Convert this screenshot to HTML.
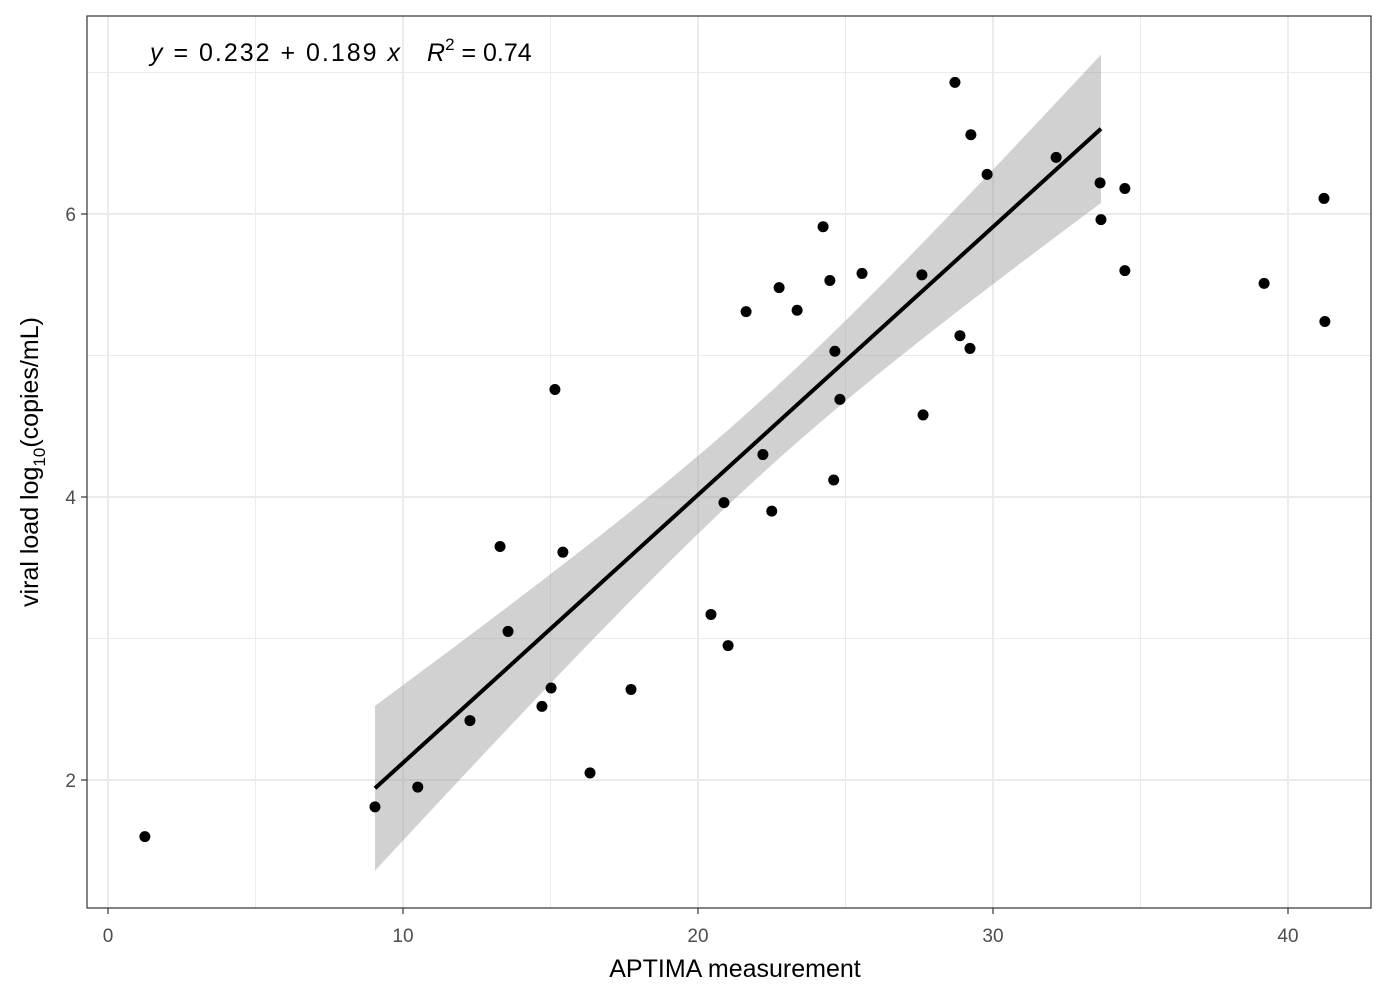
<!DOCTYPE html>
<html><head><meta charset="utf-8"><style>
body{margin:0;background:#fff;font-family:"Liberation Sans",Arial,sans-serif}
</style></head><body>
<svg id="chart" width="1400" height="1000" xmlns="http://www.w3.org/2000/svg"></svg>
<script>
const xVals=[1.25,9.05,10.5,12.27,13.29,13.56,14.71,15.02,15.15,15.42,16.34,17.73,20.44,20.88,21.02,21.63,22.2,22.5,22.75,23.36,24.24,24.47,24.6,24.64,24.81,25.56,27.59,27.63,28.71,28.88,29.25,29.22,29.8,32.14,33.63,33.66,34.47,34.47,39.19,41.22,41.25];
const yVals=[1.60,1.81,1.95,2.42,3.65,3.05,2.52,2.65,4.76,3.61,2.05,2.64,3.17,3.96,2.95,5.31,4.30,3.90,5.48,5.32,5.91,5.53,4.12,5.03,4.69,5.58,5.57,4.58,6.93,5.14,6.56,5.05,6.28,6.40,6.22,5.96,6.18,5.60,5.51,6.11,5.24];
const xTicks=[0,10,20,30,40];
const yTicks=[2,4,6];
const fitRange=[9,33.7];
const NS="http://www.w3.org/2000/svg";
const svg=document.getElementById('chart');
const L=87,T=16,R=1371,B=908;
const X=v=>108+v*29.5;
const Y=v=>497-(v-4)*141.5;
function el(t,a,p){const e=document.createElementNS(NS,t);for(const k in a)e.setAttribute(k,a[k]);(p||svg).appendChild(e);return e;}
const grid=el('g',{});


[5,15,25,35].forEach(v=>el('line',{x1:X(v),x2:X(v),y1:T,y2:B,stroke:'#ebebeb','stroke-width':1},grid));
[3,5,7].forEach(v=>el('line',{x1:L,x2:R,y1:Y(v),y2:Y(v),stroke:'#ebebeb','stroke-width':1},grid));
xTicks.forEach(v=>el('line',{x1:X(v),x2:X(v),y1:T,y2:B,stroke:'#ebebeb','stroke-width':2},grid));
yTicks.forEach(v=>el('line',{x1:L,x2:R,y1:Y(v),y2:Y(v),stroke:'#ebebeb','stroke-width':2},grid));
const idx=xVals.map((x,i)=>i).filter(i=>xVals[i]>=fitRange[0]&&xVals[i]<=fitRange[1]);
const n=idx.length;let mx=0,my=0;idx.forEach(i=>{mx+=xVals[i];my+=yVals[i]});mx/=n;my/=n;
let sxx=0,sxy=0;idx.forEach(i=>{sxx+=(xVals[i]-mx)**2;sxy+=(xVals[i]-mx)*(yVals[i]-my)});
const b=sxy/sxx,a=my-b*mx;let sse=0;idx.forEach(i=>{sse+=(yVals[i]-a-b*xVals[i])**2});
const s=Math.sqrt(sse/(n-2)),t=2.03;
const x0=Math.min(...idx.map(i=>xVals[i])),x1=Math.max(...idx.map(i=>xVals[i]));
let up=[],lo=[];
for(let k=0;k<=80;k++){const x=x0+(x1-x0)*k/80;const f=a+b*x;const h=t*s*Math.sqrt(1/n+(x-mx)**2/sxx);up.push(X(x)+','+Y(f+h));lo.unshift(X(x)+','+Y(f-h));}
const band=el('polygon',{points:up.concat(lo).join(' '),fill:'#999',opacity:0.45});


const fl=el('line',{x1:X(x0),y1:Y(a+b*x0),x2:X(x1),y2:Y(a+b*x1),stroke:'#000','stroke-width':4});


xVals.forEach((x,i)=>{const c=el('circle',{cx:X(x),cy:Y(yVals[i]),r:5.5,fill:'#000'});

});
const frame=el('rect',{x:L,y:T,width:R-L,height:B-T,fill:'none',stroke:'#333','stroke-width':1.2});


xTicks.forEach(v=>{el('line',{x1:X(v),x2:X(v),y1:B,y2:B+6,stroke:'#333','stroke-width':1.2});
const tx=el('text',{x:X(v),y:B+34,'text-anchor':'middle','font-size':19,fill:'#4d4d4d'});tx.textContent=v;

});
yTicks.forEach(v=>{el('line',{x1:L-6,x2:L,y1:Y(v),y2:Y(v),stroke:'#333','stroke-width':1.2});
const tx=el('text',{x:L-11,y:Y(v)+7,'text-anchor':'end','font-size':19,fill:'#4d4d4d'});tx.textContent=v;

});
</script>
<svg style="position:absolute;left:0;top:0" width="1400" height="1000" xmlns="http://www.w3.org/2000/svg" font-family="Liberation Sans,Arial,sans-serif">
<text x="735" y="977" text-anchor="middle" font-size="25">APTIMA measurement</text>
<text transform="translate(38,462) rotate(-90)" text-anchor="middle" font-size="25">viral load log<tspan font-size="17" dy="7">10</tspan><tspan dy="-7">(copies/mL)</tspan></text>
<g font-size="25">
<text x="150" y="61" textLength="250" lengthAdjust="spacing"><tspan font-style="italic">y</tspan> = 0.232 + 0.189 <tspan font-style="italic">x</tspan></text>
<text x="427" y="61"><tspan font-style="italic">R</tspan><tspan font-size="17" dy="-11">2</tspan><tspan dy="11"> = 0.74</tspan></text>
</g>
</svg>
</body></html>
